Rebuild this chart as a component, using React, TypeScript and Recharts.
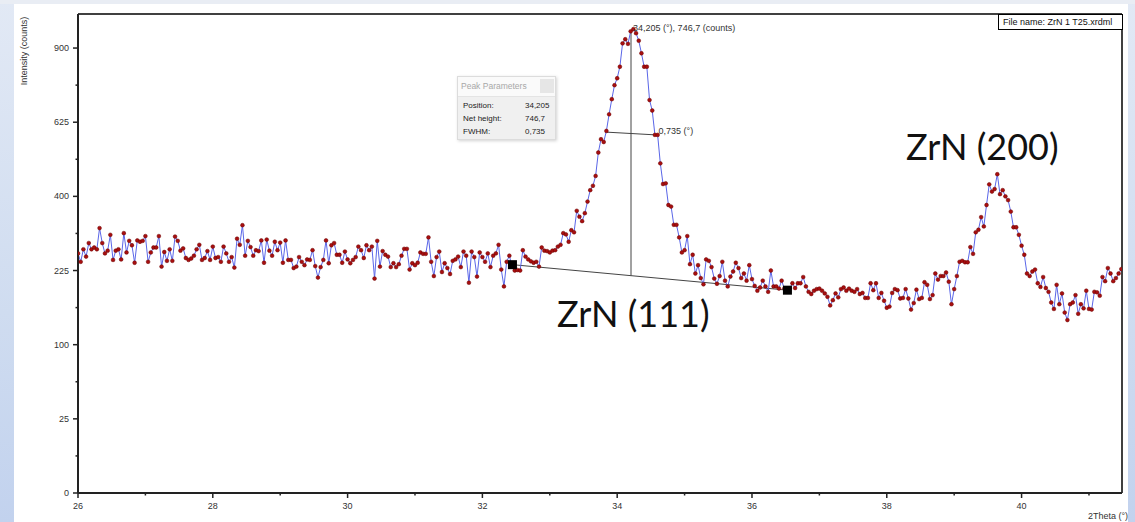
import React from 'react';
import { LineChart, Line, XAxis, YAxis, ReferenceLine, ReferenceDot } from 'recharts';

// Scan grid (2Theta, degrees)
const SCAN_START = 26;
const SCAN_STEP = 0.04;

const countsLowAngle = [
  261, 243, 270, 254, 284, 270, 274, 270, 319, 284,
  261, 267, 303, 247, 267, 270, 248, 307, 263, 289,
  279, 241, 290, 287, 289, 300, 243, 263, 274, 274,
  300, 233, 264, 245, 270, 245, 299, 289, 267, 272,
  251, 247, 250, 256, 270, 280, 247, 251, 266, 247,
  276, 251, 253, 243, 276, 261, 243, 253, 231, 294,
  280, 326, 256, 289, 275, 256, 268, 266, 290, 241,
  292, 267, 256, 287, 268, 285, 241, 290, 247, 247,
  230, 233, 253, 243, 236, 248, 247, 268, 234, 211,
  232, 247, 290, 240, 279, 284,
];

const countsBeforePeak = [
  258, 258, 241, 265, 248, 240, 247, 253, 276, 268,
  251, 279, 268, 276, 209, 289, 233, 266, 258, 254,
  232, 240, 232, 238, 256, 271, 271, 227, 240, 236,
  241, 263, 260, 260, 297, 243, 214, 253, 265, 222,
  240, 230, 218, 245, 248, 254, 232, 265, 256, 201,
  265, 253, 213, 263, 253, 243, 261, 232, 256, 261,
  280, 227, 194, 243, 256, 233, 225, 226, 225, 268,
  254, 248, 244, 241, 243, 233, 274, 267, 266, 263,
  267, 268, 276, 280, 307, 304, 287, 314, 309, 362,
  347, 336, 356, 386, 417, 429, 457,
];

const countsPeak111 = [
  527, 569, 560, 596, 652, 705, 756, 782, 826, 919,
  936, 917, 969, 978, 961, 930, 879, 826, 826, 702,
  665, 583, 583, 494, 434, 436, 377, 373, 327, 327,
  297, 263, 268, 300, 238, 258, 219, 236, 210, 198,
  248, 245, 232, 209, 199, 214, 243, 205, 194, 213,
  223, 241, 230, 210, 219, 205, 236, 208, 195, 186,
  192, 205, 194, 184, 225, 194, 194, 190, 205, 190,
  187, 190, 200, 191, 200, 200, 212, 194, 184, 180,
  186, 189, 190, 186, 181, 175, 160, 169, 181, 174,
  189, 192, 186, 190, 186,
];

const countsPeak200 = [
  184, 189, 180, 182, 173, 173, 200, 187, 200, 173,
  182, 168, 156, 158, 182, 189, 187, 172, 173, 189,
  172, 153, 164, 188, 171, 173, 202, 197, 171, 178,
  219, 207, 214, 214, 221, 203, 162, 189, 214, 243,
  245, 242, 242, 275, 260, 309, 315, 346, 323, 377,
  433, 413, 420, 462, 406, 417, 400, 390, 360, 321,
  321, 303, 278, 258, 219, 214, 223, 227, 200, 193,
  212, 191, 184, 165, 154, 197, 162, 181, 148, 136,
  162, 165, 178, 146, 162, 155, 186, 154, 153, 184,
  183, 177, 212, 204, 230, 219, 204, 210, 219, 228,
];

const intensity = [...countsLowAngle, ...countsBeforePeak, ...countsPeak111, ...countsPeak200];
const data = intensity.map((v, i) => ({
  twoTheta: Number((SCAN_START + i * SCAN_STEP).toFixed(2)),
  counts: v,
}));

// Axes
const X_DOMAIN = [26, 41.49];
const X_TICKS = [26, 27, 28, 29, 30, 31, 32, 33, 34, 35, 36, 37, 38, 39, 40, 41];
const X_MAJOR = [26, 28, 30, 32, 34, 36, 38, 40];
const Y_DOMAIN = [0, 1043];
const Y_TICKS = [0, 6.25, 25, 56.25, 100, 156.25, 225, 306.25, 400, 506.25, 625, 756.25, 900];
const Y_MAJOR = [0, 25, 100, 225, 400, 625, 900];

// Peak fit annotation (ZrN 111)
const BASE_LEFT = { x: 32.446, y: 237 };
const BASE_RIGHT = { x: 36.526, y: 187 };
const PEAK_POS = 34.205;
const PEAK_BASE = 215;
const PEAK_TOP = 972;
const FWHM_LEFT = { x: 33.84, y: 592 };
const FWHM_RIGHT = { x: 34.57, y: 583 };
const PEAK_LABEL = '34,205 (°), 746,7 (counts)';
const FWHM_LABEL = '0,735 (°)';

const AXIS_FONT = '"Liberation Sans", Arial, sans-serif';

const YTick = (props: any) => {
  const { x, y, payload } = props;
  const major = Y_MAJOR.includes(payload.value);
  return (
    <g>
      <line x1={x} x2={x - (major ? 5 : 2.5)} y1={y} y2={y} stroke="#222" strokeWidth={1.5} />
      {major && (
        <text x={x - 9} y={y + 3} textAnchor="end" fontSize={9} fill="#333" fontFamily={AXIS_FONT}>
          {payload.value}
        </text>
      )}
    </g>
  );
};

const XTick = (props: any) => {
  const { x, y, payload } = props;
  const major = X_MAJOR.includes(payload.value);
  return (
    <g>
      <line x1={x} x2={x} y1={y} y2={y + (major ? 5 : 2.5)} stroke="#222" strokeWidth={1.5} />
      {major && (
        <text x={x} y={y + 16} textAnchor="middle" fontSize={9} fill="#333" fontFamily={AXIS_FONT}>
          {payload.value}
        </text>
      )}
    </g>
  );
};

const SquareMarker = (props: any) => {
  const { cx, cy } = props;
  return <rect x={cx - 4.5} y={cy - 4.5} width={9} height={9} fill="#000" />;
};

const textMarker = (label: string, dx: number, dy: number) => (props: any) => {
  const { cx, cy } = props;
  return (
    <text x={cx + dx} y={cy + dy} fontSize={9} fill="#333" fontFamily={AXIS_FONT}>
      {label}
    </text>
  );
};

export default function App() {
  return (
    <div
      style={{
        position: 'absolute',
        left: 0,
        top: 0,
        width: 1135,
        height: 522,
        overflow: 'hidden',
        background: 'linear-gradient(180deg, #e2e9f5 0%, #cfdcf0 60%, #c2d2ee 100%)',
      }}
    >
      <div style={{ position: 'absolute', left: 0, top: 0, width: 1135, height: 4, background: '#e9edf4' }} />
      <div style={{ position: 'absolute', left: 14, top: 4, width: 1114, height: 518, background: '#ffffff' }} />
      <div style={{ position: 'absolute', left: 0, top: 0 }}>
        <LineChart width={1135} height={522} data={data} margin={{ top: 14, right: 13, left: 0, bottom: 0 }}>
          <XAxis
            dataKey="twoTheta"
            type="number"
            domain={X_DOMAIN}
            ticks={X_TICKS}
            interval={0}
            allowDataOverflow
            height={29}
            tickSize={0}
            tickMargin={0}
            tickLine={false}
            tick={<XTick />}
            axisLine={{ stroke: '#222', strokeWidth: 2 }}
          />
          <YAxis
            type="number"
            scale="sqrt"
            domain={Y_DOMAIN}
            ticks={Y_TICKS}
            interval={0}
            allowDataOverflow
            width={78}
            tickSize={0}
            tickMargin={0}
            tickLine={false}
            tick={<YTick />}
            axisLine={{ stroke: '#222', strokeWidth: 2 }}
          />
          <ReferenceLine y={Y_DOMAIN[1]} stroke="#000" strokeWidth={1.5} ifOverflow="visible" />
          <ReferenceLine x={X_DOMAIN[1]} stroke="#000" strokeWidth={1.5} ifOverflow="visible" />
          <ReferenceLine segment={[BASE_LEFT, BASE_RIGHT]} stroke="#444" strokeWidth={1} />
          <ReferenceLine segment={[{ x: PEAK_POS, y: PEAK_BASE }, { x: PEAK_POS, y: PEAK_TOP }]} stroke="#444" strokeWidth={1} />
          <ReferenceLine segment={[FWHM_LEFT, FWHM_RIGHT]} stroke="#444" strokeWidth={1} />
          <Line
            dataKey="counts"
            stroke="#5a66e8"
            strokeWidth={1}
            dot={{ r: 1.9, fill: '#a80f0f', stroke: '#6a0000', strokeWidth: 0.5 }}
            activeDot={false}
            isAnimationActive={false}
          />
          <ReferenceDot x={BASE_LEFT.x} y={BASE_LEFT.y} shape={SquareMarker} />
          <ReferenceDot x={BASE_RIGHT.x} y={BASE_RIGHT.y} shape={SquareMarker} />
          <ReferenceDot x={PEAK_POS} y={PEAK_TOP} shape={textMarker(PEAK_LABEL, 2, 0)} />
          <ReferenceDot x={FWHM_RIGHT.x} y={FWHM_RIGHT.y} shape={textMarker(FWHM_LABEL, 3, -1)} />
        </LineChart>
      </div>

      <svg width={1135} height={522} style={{ position: 'absolute', left: 0, top: 0, pointerEvents: 'none' }}>
        <text
          x={24}
          y={51}
          transform="rotate(-90 24 51)"
          textAnchor="middle"
          dominantBaseline="central"
          fontSize={9}
          fill="#333"
          fontFamily={AXIS_FONT}
        >
          Intensity (counts)
        </text>
        <text x={1128} y={519} textAnchor="end" fontSize={9} fill="#333" fontFamily={AXIS_FONT}>
          2Theta (°)
        </text>
        <rect x={998.5} y={14.5} width={124} height={15} fill="#fff" stroke="#000" strokeWidth={1} />
        <text x={1003} y={25} fontSize={9} fill="#111" fontFamily={AXIS_FONT}>
          File name: ZrN 1 T25.xrdml
        </text>
        <text x={557} y={327} fontSize={36} fill="#111" fontFamily="Lato, 'Open Sans', sans-serif">
          ZrN (111)
        </text>
        <text x={906} y={160} fontSize={36} fill="#111" fontFamily="Lato, 'Open Sans', sans-serif">
          ZrN (200)
        </text>
      </svg>

      <div
        style={{
          position: 'absolute',
          left: 457,
          top: 76,
          width: 99,
          height: 64,
          background: '#f0f0f0',
          border: '1px solid #dcdcdc',
          boxShadow: '1px 1px 3px rgba(0,0,0,0.18)',
          fontFamily: AXIS_FONT,
          fontSize: 8,
          color: '#222',
          boxSizing: 'border-box',
        }}
      >
        <div style={{ height: 19, background: '#fafafa', position: 'relative', borderBottom: '1px solid #e4e4e4' }}>
          <span style={{ position: 'absolute', left: 3, top: 4, fontSize: 8.5, color: '#a8a8a8' }}>Peak Parameters</span>
          <div style={{ position: 'absolute', right: 1, top: 2, width: 14, height: 14, background: '#e6e6e6' }} />
        </div>
        <div style={{ position: 'absolute', left: 5, top: 24 }}>Position:</div>
        <div style={{ position: 'absolute', left: 67, top: 24 }}>34,205</div>
        <div style={{ position: 'absolute', left: 5, top: 37 }}>Net height:</div>
        <div style={{ position: 'absolute', left: 67, top: 37 }}>746,7</div>
        <div style={{ position: 'absolute', left: 5, top: 50 }}>FWHM:</div>
        <div style={{ position: 'absolute', left: 67, top: 50 }}>0,735</div>
      </div>
    </div>
  );
}
